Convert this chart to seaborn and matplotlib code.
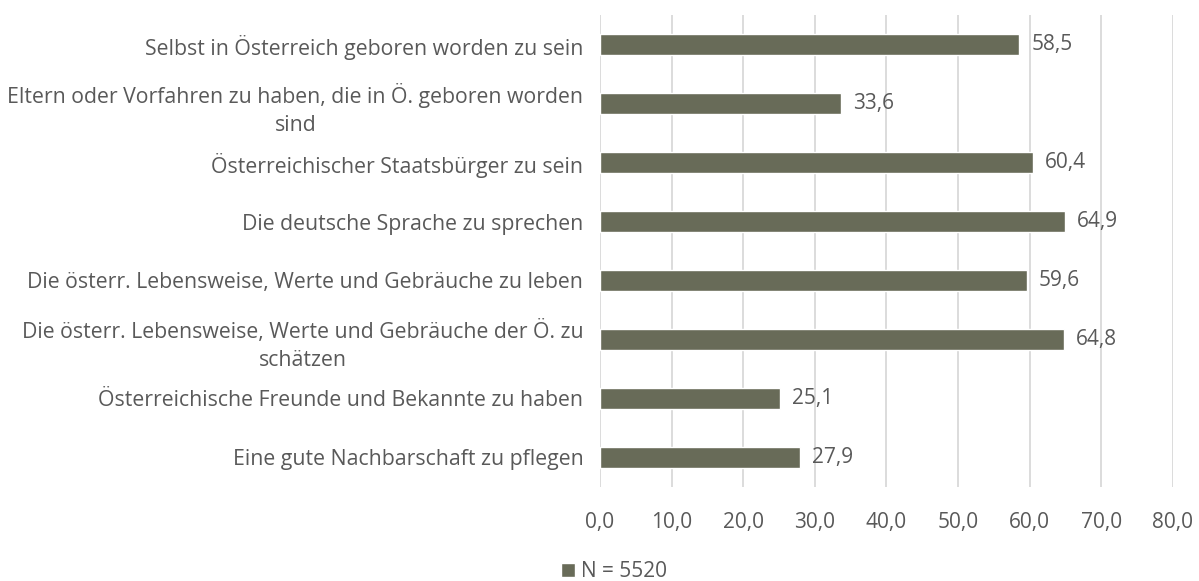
import matplotlib
matplotlib.use("Agg")
import matplotlib.pyplot as plt
import seaborn as sns
import pandas as pd
from matplotlib.patches import Patch

categories = [
    "Selbst in Österreich geboren worden zu sein",
    "Eltern oder Vorfahren zu haben, die in Ö. geboren worden\nsind",
    "Österreichischer Staatsbürger zu sein",
    "Die deutsche Sprache zu sprechen",
    "Die österr. Lebensweise, Werte und Gebräuche zu leben",
    "Die österr. Lebensweise, Werte und Gebräuche der Ö. zu\nschätzen",
    "Österreichische Freunde und Bekannte zu haben",
    "Eine gute Nachbarschaft zu pflegen",
]
values = [58.5, 33.6, 60.4, 64.9, 59.6, 64.8, 25.1, 27.9]
xticks = [0, 10, 20, 30, 40, 50, 60, 70, 80]
series_name = "N = 5520"

bar_color = "#686b58"
text_color = "#595959"
grid_color = "#d9d9d9"
fs = 15

sns.set_theme(style="white")
plt.rcParams["font.family"] = ["Open Sans", "DejaVu Sans"]

df = pd.DataFrame({"cat": categories, "val": values})

fig = plt.figure(figsize=(11.99, 5.81), dpi=100)
ax = fig.add_axes([0.5004, 0.162, 0.4779, 0.812])
sns.barplot(data=df, y="cat", x="val", orient="h", color=bar_color,
            width=0.36, ax=ax, saturation=1)

ax.set_xlim(0, 80)
ax.set_ylim(len(categories) - 0.5, -0.5)
ax.set_xticks(xticks)
ax.set_xticklabels([f"{t:.1f}".replace(".", ",") for t in xticks])
ax.xaxis.grid(True, color=grid_color, linewidth=1.3)
ax.set_axisbelow(True)
for s in ax.spines.values():
    s.set_visible(False)
ax.set_xlabel("")
ax.set_ylabel("")
ax.tick_params(axis="x", length=0, pad=18, labelsize=fs, labelcolor=text_color)
ax.tick_params(axis="y", length=0, pad=12, labelsize=15.3, labelcolor=text_color)
for lbl in ax.get_yticklabels():
    lbl.set_multialignment("center")
    lbl.set_linespacing(1.45)

for i, v in enumerate(values):
    ax.text(v + 1.7, i, f"{v:.1f}".replace(".", ","), va="center", ha="left",
            fontsize=fs, color=text_color)

fig.legend(handles=[Patch(facecolor=bar_color, label=series_name)],
           loc="center", bbox_to_anchor=(0.512, 0.016), frameon=False,
           fontsize=fs, labelcolor=text_color, handlelength=0.65,
           handleheight=0.65, handletextpad=0.3)

fig.savefig("out.png", dpi=100)
